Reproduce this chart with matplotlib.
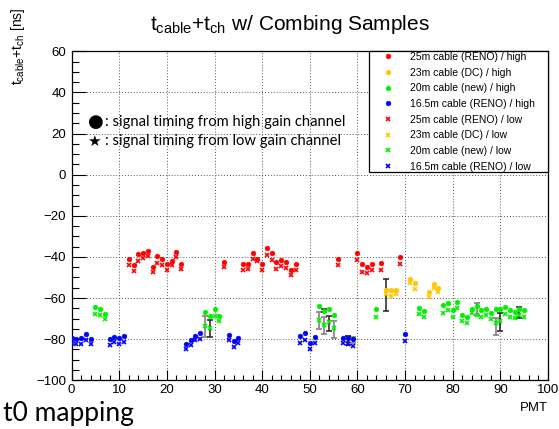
import matplotlib
matplotlib.use("Agg")
import matplotlib.pyplot as plt
from matplotlib.ticker import MultipleLocator

# ---- data ----
red_pmt = [12, 13, 14, 15, 16, 17, 18, 19, 20, 21, 22, 23, 32, 36, 37, 38, 39, 40, 41, 42,
           43, 44, 45, 46, 47, 56, 60, 61, 62, 63, 65, 69]
red_high = [-41.0, -44.1, -38.4, -38.0, -36.9, -44.7, -39.7, -41.0, -43.6, -41.8, -37.4, -43.3,
            -42.6, -43.3, -43.3, -38.0, -40.8, -43.6, -35.6, -38.0, -42.6, -41.6, -42.3, -46.2,
            -43.6, -41.0, -38.0, -43.6, -44.7, -43.3, -42.9, -40.0]
red_low = [-43.8, -47.0, -42.1, -40.5, -39.7, -47.5, -42.9, -43.8, -46.2, -44.1, -40.2, -45.7,
           -45.1, -46.2, -45.9, -40.8, -41.8, -46.5, -39.2, -41.6, -45.7, -44.6, -45.2, -49.0,
           -46.5, -44.1, -41.3, -47.3, -47.8, -46.2, -46.2, -43.3]

yel_pmt = [66, 67, 68, 71, 72, 75, 76, 77]
yel_high = [-56.0, -56.0, -56.0, -50.6, -52.9, -57.3, -53.3, -54.9]
yel_low = [-58.1, -58.8, -58.1, -52.9, -55.6, -59.7, -55.1, -57.1]

grn_pmt = [5, 6, 7, 28, 29, 30, 31, 52, 53, 54, 55, 64, 73, 74,
           78, 79, 80, 81, 82, 83, 84, 85, 86, 87, 88, 89, 90, 91, 92, 93, 94, 95]
grn_high = [-64.4, -65.2, -67.6, -66.7, -68.6, -65.4, -68.6, -63.9, -66.3, -65.2, -68.1, -65.4,
            -65.0, -66.3, -63.6, -62.4, -66.0, -61.7, -68.3, -69.0, -65.4, -63.8, -66.0, -65.2,
            -67.3, -65.4, -65.2, -64.4, -66.0, -66.8, -65.2, -65.9]
grn_low = [-67.8, -68.4, -70.4, -73.5, -74.8, -68.6, -71.1, -70.7, -73.2, -71.7, -74.8, -69.3,
           -67.6, -69.1, -67.3, -66.0, -69.3, -64.7, -71.4, -72.0, -67.3, -68.0, -69.3, -68.0,
           -70.1, -72.2, -71.1, -67.6, -69.1, -69.7, -68.3, -69.1]

blu_pmt = [0, 1, 2, 3, 4, 8, 9, 10, 11, 24, 25, 26, 27, 33, 34, 35, 48, 49, 50, 51, 57, 58, 59, 70]
blu_high = [-79.4, -79.7, -79.2, -77.5, -80.0, -79.7, -78.9, -79.4, -78.5, -82.4, -80.3, -78.4,
            -76.8, -77.8, -80.7, -79.2, -78.4, -76.8, -81.7, -79.0, -79.2, -79.5, -79.9, -77.6]
blu_low = [-82.0, -82.5, -82.5, -80.3, -82.5, -82.9, -81.6, -82.4, -81.4, -84.9, -82.9, -80.5,
           -79.9, -80.3, -83.6, -81.7, -82.0, -80.5, -84.9, -81.7, -81.7, -82.3, -83.3, -80.9]

# error bars (gray / black)
gerr_pmt = [28, 52, 53, 55, 58, 59, 85, 89]
gerr_val = [-73.8, -71.0, -73.4, -75.3, -80.0, -80.5, -65.4, -73.9]
gerr_err = [5.2, 4.0, 4.1, 4.1, 1.6, 1.6, 3.0, 4.1]
berr_pmt = [29, 53, 54, 58, 66, 90, 94]
berr_val = [-74.8, -66.2, -72.2, -80.5, -58.5, -71.7, -67.0]
berr_err = [4.2, 0.8, 3.6, 2.2, 7.8, 4.2, 2.6]

labels_high = ["25m cable (RENO) / high", "23m cable (DC) / high",
               "20m cable (new) / high", "16.5m cable (RENO) / high"]
labels_low = ["25m cable (RENO) / low", "23m cable (DC) / low",
              "20m cable (new) / low", "16.5m cable (RENO) / low"]
colors = ["#ff0000", "#ffc800", "#00f000", "#0000ff"]

plt.rcParams['font.family'] = ['Liberation Sans', 'DejaVu Sans']
plt.rcParams['mathtext.fontset'] = 'custom'
plt.rcParams['mathtext.rm'] = 'Liberation Sans'
plt.rcParams['mathtext.it'] = 'Liberation Sans'

W, H = 559, 429
fig = plt.figure(figsize=(W / 100, H / 100), dpi=100)
ax = fig.add_axes([71.6 / W, 1 - 380.3 / H, 476.4 / W, 329 / H])

ax.errorbar(gerr_pmt, gerr_val, yerr=gerr_err, fmt='none', ecolor='#8a8a8a',
            elinewidth=1.3, capsize=2.2, capthick=1.3, zorder=2)
ax.errorbar(berr_pmt, berr_val, yerr=berr_err, fmt='none', ecolor='#202020',
            elinewidth=1.1, capsize=2.2, capthick=1.1, zorder=2)

xs = [red_pmt, yel_pmt, grn_pmt, blu_pmt]
highs = [red_high, yel_high, grn_high, blu_high]
lows = [red_low, yel_low, grn_low, blu_low]
for x, y, c, lab in zip(xs, highs, colors, labels_high):
    ax.plot(x, y, ls='none', marker='o', ms=3.4, mfc=c, mec=c, mew=0.4, label=lab, zorder=3)
for x, y, c, lab in zip(xs, lows, colors, labels_low):
    ax.plot(x, y, ls='none', marker='x', ms=2.8, mec=c, mew=1.2, label=lab, zorder=3)

ax.set_xlim(0, 100)
ax.set_ylim(-100, 60)
ax.xaxis.set_major_locator(MultipleLocator(10))
ax.xaxis.set_minor_locator(MultipleLocator(2))
ax.yaxis.set_major_locator(MultipleLocator(20))
ax.yaxis.set_minor_locator(MultipleLocator(5))
ax.tick_params(axis='both', which='both', direction='in', top=False, right=False,
               labelsize=9.5, width=0.8)
ax.tick_params(axis='y', which='major', length=10, pad=4)
ax.tick_params(axis='y', which='minor', length=5)
ax.tick_params(axis='x', which='major', length=7, pad=3)
ax.tick_params(axis='x', which='minor', length=3.5)
ax.grid(True, which='major', color='#555555', linestyle=(0, (1, 2)), linewidth=0.7)
for s in ax.spines.values():
    s.set_linewidth(0.9)

leg = ax.legend(loc='upper left', bbox_to_anchor=(0.624, 0.0, 0.376, 1.0), mode='expand',
                borderaxespad=0, frameon=True, fancybox=False, edgecolor='black',
                framealpha=1, fontsize=7.5, handlelength=3.6, handletextpad=0.3,
                labelspacing=0.54, borderpad=0.08, numpoints=1)
leg.get_frame().set_linewidth(0.9)

fig.text(290 / W, 1 - 30 / H, r'$\mathregular{t_{cable}}$+$\mathregular{t_{ch}}$ w/ Combing Samples',
         ha='center', va='baseline', fontsize=15)
fig.text(18 / W, 1 - 8 / H, r'$\mathregular{t_{cable}}$+$\mathregular{t_{ch}}$ [ns]',
         rotation=90, ha='center', va='top', fontsize=10)
ax.text(1.0, -0.065, 'PMT', transform=ax.transAxes, ha='right', va='top', fontsize=9.5)

ann_font = ['Lato', 'DejaVu Sans']
fig.text(96 / W, 1 - 122 / H, '\u25CF', ha='center', va='center', fontsize=13,
         family=['DejaVu Sans'])
fig.text(105 / W, 1 - 122 / H, ': signal timing from high gain channel', ha='left',
         va='center', fontsize=10.6, family=ann_font)
fig.text(94 / W, 1 - 141 / H, '\u2605', ha='center', va='center', fontsize=11,
         family=['DejaVu Sans'])
fig.text(105 / W, 1 - 141 / H, ': signal timing from low gain channel', ha='left',
         va='center', fontsize=10.6, family=ann_font)
fig.text(3 / W, 1 - 421 / H, 't0 mapping', ha='left', va='baseline', fontsize=19,
         family=ann_font)

fig.savefig('out.png', dpi=100)
